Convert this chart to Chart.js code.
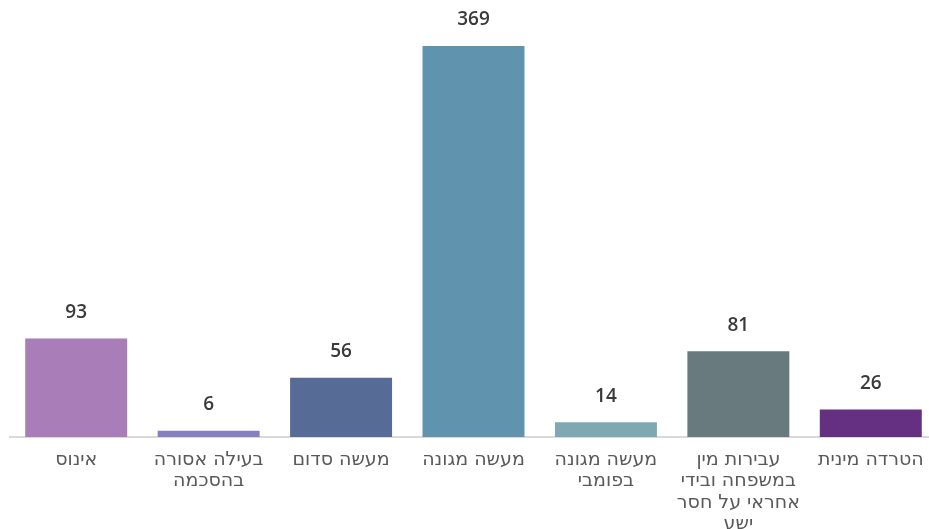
<!DOCTYPE html>
<html lang="he">
<head>
<meta charset="utf-8">
<script src="https://cdn.jsdelivr.net/npm/chart.js@4/dist/chart.umd.min.js"></script>
<style>
  body { margin: 0; background: #fff; overflow: hidden; }
  canvas { display: block; }
</style>
</head>
<body>
<canvas id="chart" width="937" height="547"></canvas>
<script>
// categories (each label split into lines as in the picture)
const categories = [
  ['אינוס'],
  ['בעילה אסורה', 'בהסכמה'],
  ['מעשה סדום'],
  ['מעשה מגונה'],
  ['מעשה מגונה', 'בפומבי'],
  ['עבירות מין', 'במשפחה ובידי', 'אחראי על חסר', 'ישע'],
  ['הטרדה מינית']
];
const counts = [93, 6, 56, 369, 14, 81, 26];
const barColors = ['#a97db8', '#8580c0', '#566c96', '#6094ae', '#80a8b3', '#687a7d', '#652f82'];

// draws the number above each bar
const valueLabels = {
  id: 'valueLabels',
  afterDatasetsDraw(chart) {
    const ctx = chart.ctx;
    const meta = chart.getDatasetMeta(0);
    ctx.save();
    ctx.font = '600 19px "Open Sans", sans-serif';
    ctx.fillStyle = '#3a3a3a';
    ctx.textAlign = 'center';
    ctx.textBaseline = 'middle';
    meta.data.forEach((bar, i) => {
      ctx.fillText(counts[i], bar.x, bar.y - 26);
    });
    ctx.restore();
  }
};

new Chart(document.getElementById('chart'), {
  type: 'bar',
  data: {
    labels: categories,
    datasets: [{
      data: counts,
      backgroundColor: barColors,
      barPercentage: 0.77,
      categoryPercentage: 1
    }]
  },
  options: {
    responsive: false,
    animation: false,
    layout: { padding: { top: 46, left: 10, right: 0, bottom: 0 } },
    plugins: {
      legend: { display: false },
      tooltip: { enabled: false }
    },
    scales: {
      x: {
        grid: { display: false, drawTicks: false },
        border: { color: '#d9d9d9', width: 2 },
        ticks: {
          autoSkip: false,
          maxRotation: 0,
          padding: 12,
          color: '#595959',
          font: { family: '"DejaVu Sans", sans-serif', size: 19, lineHeight: 1.13 }
        }
      },
      y: {
        display: false,
        min: 0,
        max: 369
      }
    }
  },
  plugins: [valueLabels]
});
</script>
</body>
</html>
